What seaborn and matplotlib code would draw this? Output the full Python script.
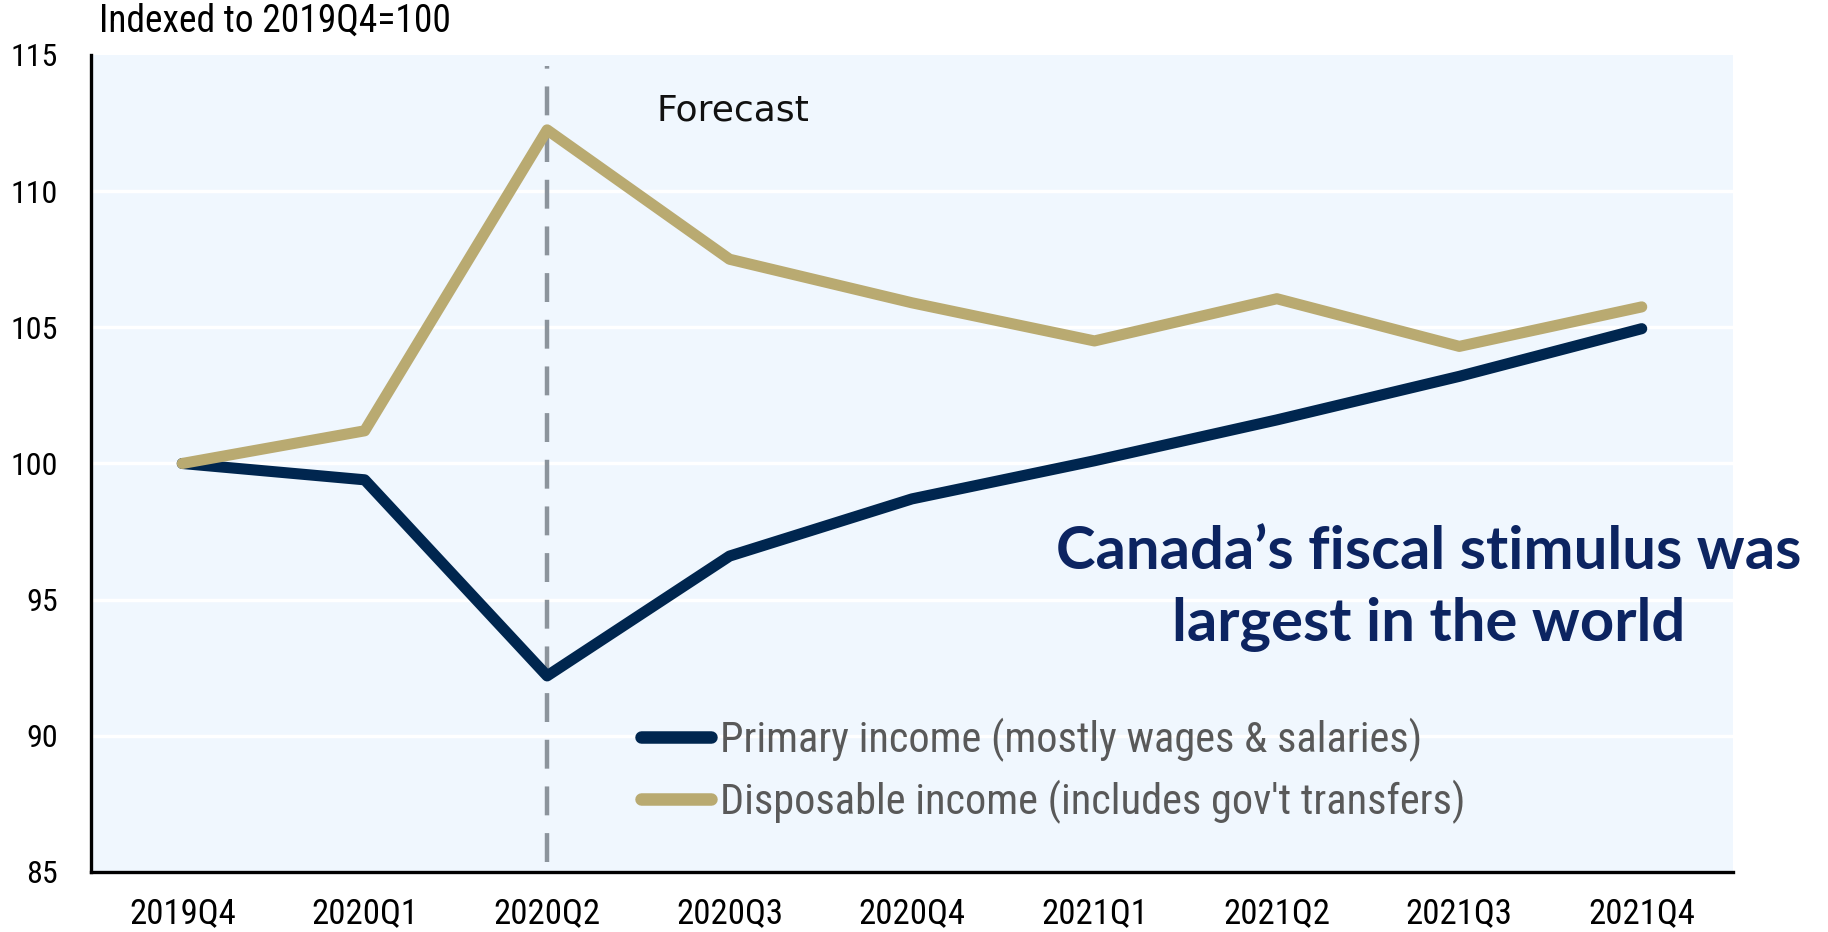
import matplotlib
matplotlib.use("Agg")
import matplotlib.pyplot as plt
from matplotlib import font_manager as fm
import seaborn as sns
import pandas as pd

# Quarterly household income, indexed to 2019Q4 = 100
quarters = ["2019Q4", "2020Q1", "2020Q2", "2020Q3", "2020Q4",
            "2021Q1", "2021Q2", "2021Q3", "2021Q4"]
primary_income = [100.0, 99.4, 92.2, 96.6, 98.7, 100.1, 101.6, 103.2, 104.95]
disposable_income = [100.0, 101.2, 112.25, 107.5, 105.9, 104.5, 106.05, 104.3, 105.75]

series_names = ["Primary income (mostly wages & salaries)",
                "Disposable income (includes gov't transfers)"]
y_ticks = [85, 90, 95, 100, 105, 110, 115]
forecast_start = "2020Q2"

NAVY = "#00264F"
GOLD = "#B9AA71"
BG = "#F0F7FE"

sns.set_theme(style="white")
available = {f.name for f in fm.fontManager.ttflist}
narrow = next((n for n in ["Liberation Sans Narrow", "DejaVu Sans Condensed",
                           "Roboto Condensed", "Open Sans Condensed"]
               if n in available), "Liberation Sans")
bold_face = next((n for n in ["Lato", "Open Sans", "Noto Sans"] if n in available), "DejaVu Sans")
plt.rcParams["font.family"] = [narrow, "DejaVu Sans"]

df = pd.DataFrame({
    "quarter": quarters * 2,
    "value": primary_income + disposable_income,
    "series": [series_names[0]] * len(quarters) + [series_names[1]] * len(quarters),
})

fig = plt.figure(figsize=(18.28, 9.32), dpi=100)
ax = fig.add_axes([0.0498, 0.0644, 0.8982, 0.8766])
ax.set_facecolor(BG)

sns.lineplot(data=df, x="quarter", y="value", hue="series", sort=False,
             palette=[NAVY, GOLD], linewidth=8, ax=ax, legend=True)
for line in ax.lines:
    line.set_solid_joinstyle("round")
    line.set_solid_capstyle("round")

ax.set_xlim(-0.5, len(quarters) - 0.5)
ax.set_ylim(y_ticks[0], y_ticks[-1])
ax.set_yticks(y_ticks)
ax.set_yticklabels([str(t) for t in y_ticks])

for t in y_ticks[1:-1]:
    ax.axhline(t, color="white", linewidth=2.5, zorder=0.5)

# Forecast divider
xf = quarters.index(forecast_start)
ax.plot([xf, xf], [85.35, 114.6], color="#8C949C", linewidth=3.2,
        linestyle=(0, (6.5, 4)), zorder=1.5)
ax.text(2.6, 112.95, "Forecast", fontsize=26, family="DejaVu Sans",
        color="#111111", va="center", ha="left")

ax.text(6.83, 95.4, "Canada\u2019s fiscal stimulus was\nlargest in the world",
        fontsize=43, fontweight="bold", family=bold_face, color="#0C2461",
        ha="center", va="center", linespacing=1.42)

for side in ["top", "right"]:
    ax.spines[side].set_visible(False)
for side in ["left", "bottom"]:
    ax.spines[side].set_color("black")
    ax.spines[side].set_linewidth(2.4)

ax.tick_params(axis="both", length=0, colors="black")
ax.tick_params(axis="y", labelsize=23, pad=24)
ax.tick_params(axis="x", labelsize=25, pad=18)
ax.set_xlabel("")
ax.set_ylabel("")
ax.grid(False)

handles, labels = ax.get_legend_handles_labels()
leg = ax.legend(handles, labels, loc="center left", bbox_to_anchor=(0.335, 0.1236),
                frameon=False, fontsize=30.5, handlelength=1.65, handletextpad=0.22,
                labelspacing=0.42, borderpad=0, borderaxespad=0)
for h in leg.get_lines():
    h.set_linewidth(9)
    h.set_solid_capstyle("round")
for txt in leg.get_texts():
    txt.set_color("#595959")

fig.text(99 / 1828, 1 - 21 / 932, "Indexed to 2019Q4=100", fontsize=27,
         color="black", ha="left", va="center")

fig.savefig("out.png", dpi=100, facecolor="white")
